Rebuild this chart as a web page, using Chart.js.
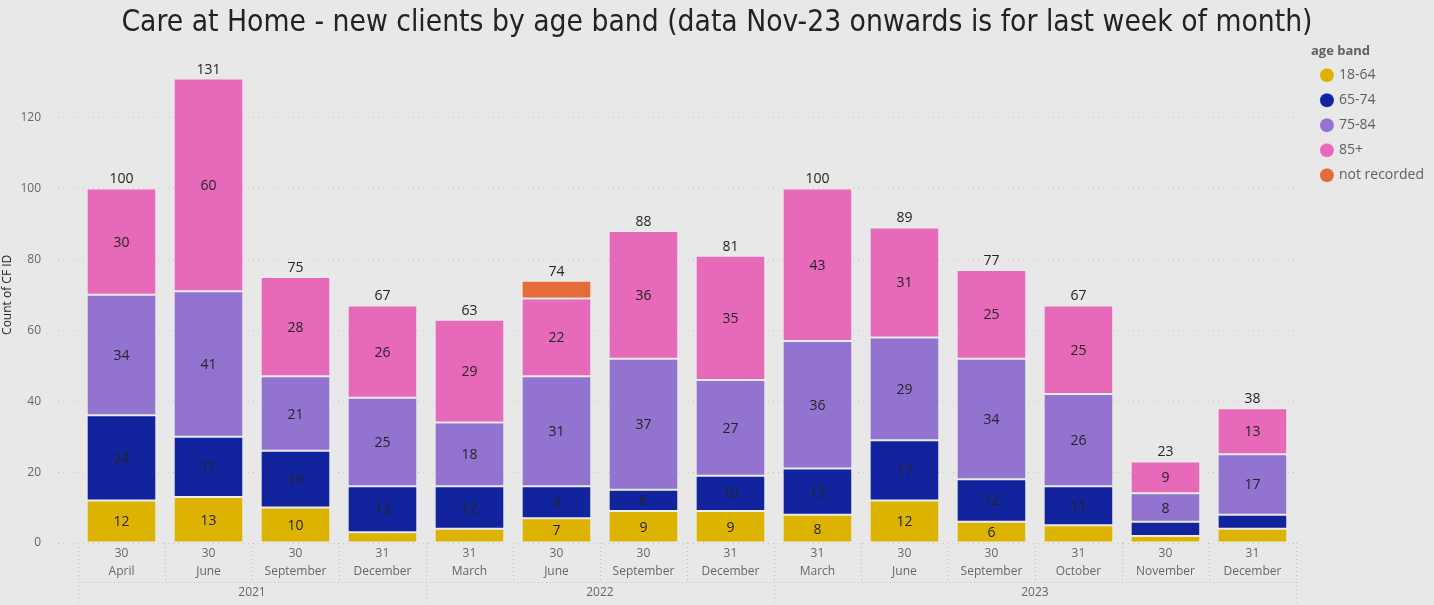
<!DOCTYPE html>
<html>
<head>
<meta charset="utf-8">
<script src="https://cdn.jsdelivr.net/npm/chart.js@4"></script>
<style>
  html, body { margin: 0; padding: 0; background: #e8e8e8; }
  #wrap { width: 1434px; height: 605px; position: relative; }
</style>
</head>
<body>
<div id="wrap"><canvas id="grafico"></canvas></div>
<script>
// dados
const dias = ["30", "30", "30", "31", "31", "30", "30", "31", "31", "30", "30", "31", "30", "31"];
const meses = ["April", "June", "September", "December", "March", "June", "September", "December",
  "March", "June", "September", "October", "November", "December"];
const anos = ["2021", "2021", "2021", "2021", "2022", "2022", "2022", "2022",
  "2023", "2023", "2023", "2023", "2023", "2023"];

const faixa1864 = [12, 13, 10, 3, 4, 7, 9, 9, 8, 12, 6, 5, 2, 4];
const faixa6574 = [24, 17, 16, 13, 12, 9, 6, 10, 13, 17, 12, 11, 4, 4];
const faixa7584 = [34, 41, 21, 25, 18, 31, 37, 27, 36, 29, 34, 26, 8, 17];
const faixa85 = [30, 60, 28, 26, 29, 22, 36, 35, 43, 31, 25, 25, 9, 13];
const naoRegistrado = [0, 0, 0, 0, 0, 5, 0, 0, 0, 0, 0, 0, 0, 0];

const ticksY = [0, 20, 40, 60, 80, 100, 120];

const totais = dias.map((_, i) =>
  faixa1864[i] + faixa6574[i] + faixa7584[i] + faixa85[i] + naoRegistrado[i]);

const corTexto = "#252423";
const corEixo = "#666666";
const corPontos = "#bdbdbd";

// rótulos dentro das barras e totais
const rotulosPlugin = {
  id: "rotulos",
  afterDatasetsDraw(chart) {
    const { ctx } = chart;
    ctx.save();
    ctx.font = "14px 'Open Sans', sans-serif";
    ctx.fillStyle = corTexto;
    ctx.textAlign = "center";
    ctx.textBaseline = "middle";
    chart.data.datasets.forEach((ds, d) => {
      const meta = chart.getDatasetMeta(d);
      meta.data.forEach((el, i) => {
        const v = ds.data[i];
        if (v >= 6) ctx.fillText(v, el.x, (el.y + el.base) / 2 + 1);
      });
    });
    const y = chart.scales.y;
    const x = chart.scales.x;
    ctx.textBaseline = "bottom";
    totais.forEach((t, i) => {
      ctx.fillText(t, x.getPixelForValue(i), y.getPixelForValue(t) - 2);
    });
    ctx.restore();
  }
};

// separadores pontilhados e anos no eixo x
const eixoAnosPlugin = {
  id: "eixoAnos",
  afterDraw(chart) {
    const { ctx } = chart;
    const x = chart.scales.x;
    const area = chart.chartArea;
    const passo = x.getPixelForValue(1) - x.getPixelForValue(0);
    const yBase = area.bottom;
    const yLinha = yBase + 39;
    const yFim = chart.height;
    ctx.save();
    ctx.strokeStyle = corPontos;
    ctx.lineWidth = 1;
    ctx.setLineDash([1, 3]);
    for (let i = 0; i <= dias.length; i++) {
      const px = Math.round(x.getPixelForValue(i) - passo / 2) + 0.5;
      ctx.beginPath();
      ctx.moveTo(px, yBase);
      ctx.lineTo(px, yLinha);
      ctx.stroke();
    }
    const esq = x.getPixelForValue(0) - passo / 2;
    const dir = x.getPixelForValue(dias.length - 1) + passo / 2;
    ctx.beginPath();
    ctx.moveTo(esq, yLinha + 0.5);
    ctx.lineTo(dir, yLinha + 0.5);
    ctx.stroke();

    const grupos = [];
    anos.forEach((a, i) => {
      const g = grupos[grupos.length - 1];
      if (g && g.ano === a) g.fim = i;
      else grupos.push({ ano: a, ini: i, fim: i });
    });
    ctx.font = "12px 'Open Sans', sans-serif";
    ctx.fillStyle = corEixo;
    ctx.textAlign = "center";
    ctx.textBaseline = "middle";
    grupos.forEach((g) => {
      const a = x.getPixelForValue(g.ini) - passo / 2;
      const b = x.getPixelForValue(g.fim) + passo / 2;
      ctx.fillText(g.ano, (a + b) / 2, yLinha + 11);
      [a, b].forEach(px => {
        const p = Math.round(px) + 0.5;
        ctx.beginPath();
        ctx.moveTo(p, yLinha);
        ctx.lineTo(p, yFim);
        ctx.stroke();
      });
    });
    ctx.restore();
  }
};

const serie = (label, data, cor) => ({
  label,
  data,
  backgroundColor: cor,
  borderColor: "rgba(255,255,255,0.2)",
  borderWidth: 1,
  borderSkipped: false,
});

new Chart(document.getElementById("grafico"), {
  type: "bar",
  data: {
    labels: dias.map((d, i) => [d, meses[i]]),
    datasets: [
      serie("18-64", faixa1864, "#dbb300"),
      serie("65-74", faixa6574, "#12239e"),
      serie("75-84", faixa7584, "#9273d0"),
      serie("85+", faixa85, "#e66ab9"),
      serie("not recorded", naoRegistrado, "#e66c37"),
    ],
  },
  options: {
    responsive: true,
    maintainAspectRatio: false,
    animation: false,
    layout: { padding: { left: 0, right: 0, top: 0, bottom: 0 } },
    datasets: { bar: { categoryPercentage: 1, barPercentage: 0.8 } },
    plugins: {
      title: {
        display: true,
        text: "Care at Home - new clients by age band (data Nov-23 onwards is for last week of month)",
        color: "#222222",
        font: { family: "'DejaVu Sans Condensed', 'Liberation Sans Narrow', sans-serif", size: 29.7, weight: "normal", lineHeight: 1.1 },
        padding: { top: 7, bottom: 7 },
      },
      legend: {
        position: "right",
        align: "start",
        title: {
          display: true,
          text: "age band",
          position: "start",
          color: "#605e5c",
          font: { family: "'Open Sans', sans-serif", size: 13, weight: "bold" },
          padding: { top: 0, bottom: -3 },
        },
        labels: {
          usePointStyle: true,
          pointStyle: "circle",
          boxWidth: 10,
          boxHeight: 10,
          padding: 11,
          color: "#605e5c",
          font: { family: "'Open Sans', sans-serif", size: 14 },
        },
      },
      tooltip: { enabled: false },
    },
    scales: {
      x: {
        stacked: true,
        grid: { display: false, drawTicks: false },
        border: { display: false },
        ticks: {
          color: corEixo,
          font: { family: "'Open Sans', sans-serif", size: 12, lineHeight: 1.5 },
          padding: 2,
          maxRotation: 0,
          autoSkip: false,
        },
        afterFit(scale) { scale.height = 62; },
      },
      y: {
        stacked: true,
        min: 0,
        max: 140,
        afterBuildTicks(scale) {
          scale.ticks = ticksY.map(v => ({ value: v }));
        },
        grid: {
          color: "#c8c8c8",
          tickLength: 25,
          tickBorderDash: [1, 4],
        },
        border: { display: false, dash: [1, 4] },
        ticks: {
          color: corEixo,
          padding: 12,
          font: { family: "'Open Sans', sans-serif", size: 12 },
        },
        title: {
          display: true,
          text: "Count of CF ID",
          color: corTexto,
          font: { family: "'Open Sans', sans-serif", size: 12 },
          padding: 0,
        },
        afterFit(scale) { scale.width = 78; },
      },
      // espaço vazio entre a área do gráfico e a legenda
      folga: {
        type: "linear",
        position: "right",
        display: true,
        grid: { display: false, drawTicks: false },
        border: { display: false },
        ticks: { display: false },
        afterFit(scale) { scale.width = 15; },
      },
    },
  },
  plugins: [rotulosPlugin, eixoAnosPlugin, {
    id: "legendaAbaixo",
    beforeDraw(chart) {
      // desce a legenda para alinhar com o topo da área do gráfico
      const lg = chart.legend;
      if (lg && !lg._deslocada) {
        lg._deslocada = true;
        const dy = chart.chartArea.top - lg.top - 2;
        lg.top += dy;
        lg.bottom += dy;
        lg.legendHitBoxes.forEach(h => { h.top += dy; });
      }
    }
  }],
});
</script>
</body>
</html>
